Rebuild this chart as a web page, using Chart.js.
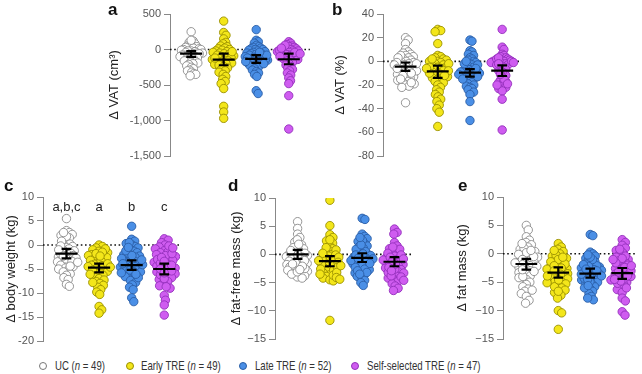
<!DOCTYPE html>
<html>
<head>
<meta charset="utf-8">
<script src="https://cdn.jsdelivr.net/npm/chart.js@4.4.0/dist/chart.umd.min.js"></script>
<style>
  body { margin: 0; background: #fff; width: 642px; height: 374px; position: relative; overflow: hidden;
         font-family: "Liberation Sans", Arial, sans-serif; }
  .panel { position: absolute; }
  .letter { position: absolute; font-weight: bold; font-size: 17px; color: #111; }
  .dot { position: absolute; top: 362px; width: 6px; height: 6px; border-radius: 50%; border: 1px solid #777; }
  .ltxt { position: absolute; top: 358px; font-size: 13px; line-height: 16px; color: #333; white-space: nowrap;
          transform: scaleX(0.74); transform-origin: 0 50%; }
</style>
</head>
<body>
<canvas id="pa" class="panel"></canvas>
<canvas id="pb" class="panel"></canvas>
<canvas id="pc" class="panel"></canvas>
<canvas id="pd" class="panel"></canvas>
<canvas id="pe" class="panel"></canvas>
<div class="letter" style="left:108px;top:0px">a</div>
<div class="letter" style="left:332px;top:0px">b</div>
<div class="letter" style="left:4px;top:176px">c</div>
<div class="letter" style="left:228px;top:176px">d</div>
<div class="letter" style="left:458px;top:176px">e</div>
<div class="dot" style="left:39px;background:#fff;border-color:#777"></div>
<div class="ltxt" style="left:55px">UC (<i>n</i> = 49)</div>
<div class="dot" style="left:126px;background:#f3e61a;border-color:#9a9000"></div>
<div class="ltxt" style="left:141px">Early TRE (<i>n</i> = 49)</div>
<div class="dot" style="left:239px;background:#4a8fe6;border-color:#2a5ea6"></div>
<div class="ltxt" style="left:255px">Late TRE (<i>n</i> = 52)</div>
<div class="dot" style="left:351px;background:#cf5cf0;border-color:#9330bb"></div>
<div class="ltxt" style="left:367px">Self-selected TRE (<i>n</i> = 47)</div>
<script>
// groups
const groups = ['UC', 'Early TRE', 'Late TRE', 'Self-selected TRE'];
const fills = ['#ffffff', '#f3e61a', '#4a8fe6', '#cf5cf0'];
const edges = ['#8a8a8a', '#9a9000', '#2a5ea6', '#9330bb'];

// a: change in VAT (cm3)
const vatUC = [250, 120, 100, 80, 60, 50, 40, 30, 30, 20, 10, 0, 0, -10, -20, -20, -30, -40, -50, -50, -60, -60, -70, -80, -80, -90, -100, -100, -110, -120, -130, -140, -150, -160, -170, -180, -190, -200, -210, -230, -250, -270, -290, -300, -320, -340, -350, -370, 130];
const vatEarly = [400, 240, 200, 150, 100, 80, 50, 40, 20, 10, 0, -10, -20, -30, -40, -50, -60, -70, -80, -90, -100, -110, -120, -130, -140, -150, -160, -170, -180, -190, -200, -210, -220, -240, -260, -280, -300, -320, -350, -380, -420, -450, -480, -550, -800, -880, -970, -30, -120];
const vatLate = [280, 130, 110, 90, 60, 40, 30, 20, 10, 0, 0, -10, -20, -30, -40, -50, -60, -70, -80, -90, -100, -100, -110, -120, -130, -140, -150, -150, -160, -170, -180, -190, -200, -210, -220, -230, -250, -270, -290, -310, -330, -350, -380, -580, -620, -60, -120, -140, -80, -40, -200, -170];
const vatSelf = [110, 90, 70, 50, 40, 30, 20, 10, 0, 0, -10, -20, -20, -30, -40, -50, -60, -70, -80, -90, -100, -110, -120, -130, -140, -150, -160, -180, -200, -220, -240, -260, -280, -300, -330, -360, -400, -440, -480, -650, -1120, 60, -10, -40, 20, -60, -100];
const vatMean = [-57, -142, -132, -137];
const vatLo = [-104, -222, -189, -208];
const vatHi = [-24, -57, -80, -57];

// b: change in VAT (%)
const vatPctUC = [20, 18, 15, 10, 8, 7, 6, 5, 4, 3, 2, 1, 0, 0, -1, -2, -3, -4, -4, -5, -6, -7, -8, -9, -10, -11, -12, -13, -14, -15, -16, -17, -18, -19, -20, -21, -22, -35, 5, 3, -1, -3, -6, -8, -10, -12, -2, -15, -18];
const vatPctEarly = [27, 26, 25, 15, 5, 4, 3, 2, 1, 0, -1, -2, -3, -4, -5, -5, -6, -7, -8, -9, -10, -11, -12, -13, -14, -15, -16, -17, -18, -20, -22, -24, -26, -28, -30, -32, -34, -37, -40, -43, -55, 0, -2, -5, -8, -10, -12, 2, -6];
const vatPctLate = [18, 17, 9, 8, 6, 5, 3, 2, 1, 0, -1, -2, -3, -4, -5, -6, -7, -7, -8, -8, -9, -9, -10, -10, -11, -11, -12, -12, -13, -14, -15, -16, -17, -18, -19, -20, -21, -22, -23, -24, -26, -28, -34, -50, -3, -6, -9, -11, -13, -2, 0, -15];
const vatPctSelf = [27, 12, 10, 6, 5, 4, 3, 2, 1, 1, 0, 0, 0, -1, -1, -2, -3, -4, -5, -6, -7, -8, -10, -12, -14, -16, -17, -18, -19, -20, -21, -22, -23, -25, -32, -58, 2, 0, -1, -3, -15, -19, -20, 3, -2, -9, -11];
const vatPctMean = [-4.5, -8.5, -9.6, -7.9];
const vatPctLo = [-8, -14, -13, -12.4];
const vatPctHi = [-1, -3.7, -6.5, -3.4];

// c: change in body weight (kg)
const bwUC = [5.5, 3, 2.6, 2.2, 2, 1.5, 1, 0.5, 0.2, 0, -0.3, -0.5, -0.8, -1, -1.2, -1.5, -1.7, -2, -2.2, -2.5, -2.7, -3, -3.2, -3.5, -3.8, -4, -4.2, -4.5, -4.8, -5, -5.3, -5.6, -6, -6.3, -6.8, -7.2, -8.2, -8.6, 1.8, 0.8, -0.2, -1.8, -2.9, -3.4, -4.4, 2.6, -1, -2.3, -3.6];
const bwEarly = [0, -0.3, -0.6, -1, -1.3, -1.6, -2, -2.2, -2.5, -2.8, -3, -3.2, -3.5, -3.8, -4, -4.2, -4.5, -4.8, -5, -5.2, -5.5, -5.8, -6, -6.3, -6.6, -7, -7.3, -7.6, -8, -8.4, -8.8, -9.3, -9.8, -10.3, -12.8, -13.5, -14.2, -1.8, -2.6, -3.3, -4.3, -5.3, -6.1, -0.8, -1.5, -3.9, -4.6, -7.8, -2.3];
const bwLate = [3.9, 1.2, 0.8, 0.3, 0, -0.3, -0.6, -1, -1.3, -1.6, -2, -2.3, -2.6, -3, -3.3, -3.6, -4, -4.3, -4.6, -5, -5.3, -5.6, -6, -6.3, -6.6, -7, -7.4, -7.8, -8.3, -8.8, -9.3, -11, -11.8, -2.8, -3.8, -4.8, -5.8, -1.8, -2.5, -3.5, -4.5, -5.5, -6.8, 0.5, -1.2, -2.2, -4.1, -5.2, -3.1, -6.1, -0.5, -3.9];
const bwSelf = [1.3, 1, 0.5, 0, -0.4, -0.8, -1.2, -1.6, -2, -2.4, -2.8, -3.2, -3.6, -4, -4.4, -4.8, -5.2, -5.6, -6, -6.4, -6.8, -7.2, -7.6, -8, -8.5, -9, -10.5, -11.5, -12.5, -14.6, -1.4, -2.2, -3, -3.8, -4.6, -5.4, -6.2, -0.2, -1.8, -2.6, -3.4, -4.2, -5, -7, -8.7, -5.8, -0.6];
const bwMean = [-1.8, -4.7, -4.2, -5.0];
const bwLo = [-2.8, -5.7, -5.2, -6.1];
const bwHi = [-0.8, -3.9, -3.2, -3.9];
const bwLetters = ['a,b,c', 'a', 'b', 'c'];

// d: change in fat-free mass (kg)
const ffmUC = [5.8, 4.6, 3.6, 3, 2.2, 1.7, 1.4, 1, 0.8, 0.5, 0.3, 0, 0, -0.2, -0.4, -0.6, -0.8, -1, -1.2, -1.4, -1.6, -1.8, -2, -2.2, -2.4, -2.6, -2.8, -3, -3.2, -3.4, -3.6, -3.8, -4, -4.2, 1.2, 0.2, -0.5, -1.5, -2.5, -3.5, 2.6, 0.7, -1.1, -2.1, -3.1, -0.1, 1.8, -1.7, -2.7];
const ffmEarly = [9.6, 5.1, 3.5, 3, 2.4, 2, 1.5, 1, 0.6, 0.3, 0, -0.3, -0.6, -0.9, -1.2, -1.5, -1.8, -2.1, -2.4, -2.7, -3, -3.3, -3.6, -3.9, -4.2, -4.5, -4.7, -11.7, 0.8, -0.1, -1, -1.9, -2.8, -3.7, 1.2, -0.5, -1.4, -2.3, -3.2, -4.1, 2.6, -0.8, -1.7, -2.6, -3.5, -4.4, 0.2, -1.1, -2];
const ffmLate = [6.4, 6.2, 3.6, 3.2, 2.8, 2.3, 1.9, 1.5, 1.1, 0.7, 0.3, 0, -0.3, -0.6, -0.9, -1.2, -1.5, -1.8, -2.1, -2.4, -2.7, -3, -3.3, -3.6, -3.9, -4.2, -4.6, -5, -5.5, 1.3, 0.5, -0.2, -0.8, -1.4, -2, -2.6, -3.2, 2.5, 0.9, -0.5, -1, -1.7, -2.3, -0.1, 1.7, -1.1, -2.9, 0.1, -0.7, -1.6, -3.5, 3];
const ffmSelf = [4.5, 3.9, 3.6, 2.1, 1.5, 1, 0.6, 0.3, 0, -0.3, -0.6, -0.9, -1.2, -1.5, -1.8, -2.1, -2.4, -2.7, -3, -3.3, -3.6, -3.9, -4.2, -4.5, -4.8, -5.2, -5.6, -6, -6.4, 0.9, -0.1, -0.8, -1.4, -2, -2.6, -3.2, -3.8, 1.3, 0.2, -1, -1.7, -2.3, -2.9, -4, -4.6, -0.5, -1.1];
const ffmMean = [0, -1.2, -0.6, -1.3];
const ffmLo = [-0.8, -2.1, -1.35, -2.1];
const ffmHi = [0.8, -0.3, 0.2, -0.5];

// e: change in fat mass (kg)
const fmUC = [5, 4.2, 3, 2.4, 2, 1.6, 1.2, 0.8, 0.4, 0, -0.3, -0.6, -0.9, -1.2, -1.5, -1.8, -2.1, -2.4, -2.7, -3, -3.3, -3.6, -3.9, -4.2, -4.5, -5, -5.4, -5.8, -6.2, -6.6, -7, -7.5, -8.2, -8.7, 1, 0.2, -0.5, -1.4, -2.2, -3.1, -4, 1.8, -0.1, -1, -1.9, -2.8, -6.4, 0.6, -1.6];
const fmEarly = [1.8, 1.2, 0.8, 0.4, 0, -0.4, -0.8, -1.2, -1.6, -2, -2.3, -2.6, -2.9, -3.2, -3.5, -3.8, -4.1, -4.4, -4.7, -5, -5.3, -5.6, -6, -6.4, -6.8, -7.3, -7.8, -10, -10.4, -13.3, -0.2, -1, -1.8, -2.5, -3.3, -4, -4.9, -5.8, 0.6, -1.4, -2.7, -3.6, -4.6, -5.1, -0.6, -2.1, -3, -6.6, -3.9];
const fmLate = [3.4, 3.2, 0.3, 0, -0.4, -0.8, -1.2, -1.6, -2, -2.3, -2.6, -2.9, -3.2, -3.5, -3.8, -4.1, -4.4, -4.7, -5, -5.4, -5.8, -6.2, -6.6, -7, -7.5, -8.1, -1.4, -2.1, -2.8, -3.4, -4, -4.6, -5.2, -1, -1.8, -2.5, -3, -3.7, -4.3, -4.9, -6, -0.6, -2.2, -3.3, -3.9, -4.5, -7.8, -0.2, -1.9, -3.6, -5.6, -2.7];
const fmSelf = [2.5, 2, 1.5, 1, 0.6, 0.2, -0.2, -0.6, -1, -1.4, -1.8, -2.2, -2.6, -3, -3.4, -3.8, -4.2, -4.6, -5, -5.4, -5.8, -6.3, -6.8, -7.8, -8.3, -10.2, -10.8, -0.4, -1.2, -2, -2.8, -3.6, -4.4, -5.2, -0.8, -1.6, -2.4, -3.2, -4, -4.8, -6, -3, -2.1, -3.9, -1, -4.5, 0.8];
const fmMean = [-1.8, -3.3, -3.5, -3.4];
const fmLo = [-2.8, -4.2, -4.2, -4.4];
const fmHi = [-0.9, -2.4, -2.6, -2.5];

// beeswarm: x offsets in px, squeezed so the swarm never gets wider than maxHalf
function swarm(vals, ky, minDist, maxHalf) {
    const placed = [];
    const out = new Array(vals.length);
    const order = vals.map((v, i) => i).sort((a, b) => vals[b] - vals[a]);
    for (const i of order) {
        const y = vals[i] * ky;
        let dx = 0;
        for (let s = 0; s < 400; s++) {
            const cand = s === 0 ? 0 : (s % 2 ? 1 : -1) * Math.ceil(s / 2) * 0.5;
            if (placed.every(p => Math.hypot(p.x - cand, p.y - y) >= minDist)) { dx = cand; break; }
        }
        placed.push({x: dx, y: y});
        out[i] = dx;
    }
    const widest = Math.max(...out.map(Math.abs));
    const f = widest > maxHalf ? maxHalf / widest : 1;
    return out.map(d => d * f);
}

const tickFont = {family: "'Liberation Sans', Arial, sans-serif", size: 11};
const titleFont = {family: "'Liberation Sans', Arial, sans-serif", size: 13};

const letterPlugin = {
    id: 'groupLetters',
    afterDatasetsDraw(chart, args, opts) {
        if (!opts.letters) return;
        const ctx = chart.ctx;
        const xs = chart.scales.x, ys = chart.scales.y;
        ctx.save();
        ctx.font = "13px 'Liberation Sans', Arial, sans-serif";
        ctx.fillStyle = '#222';
        ctx.textAlign = 'center';
        ctx.textBaseline = 'middle';
        opts.letters.forEach((t, i) => ctx.fillText(t, xs.getPixelForValue(i + 1), ys.getPixelForValue(opts.y)));
        ctx.restore();
    }
};

function fmtTick(v, minus) {
    const s = v.toLocaleString('en-US');
    return minus ? s.replace('-', '\u2212') : s;
}

function makePanel(p) {
    const cv = document.getElementById(p.id);
    cv.width = p.w; cv.height = p.h;
    cv.style.left = p.left + 'px'; cv.style.top = p.top + 'px';
    const plotW = p.w - p.yW - p.padR;
    const plotH = p.h - p.padT - p.padB;
    const kx = plotW / (p.xmax - p.xmin);
    const ky = plotH / (p.ymax - p.ymin);

    const datasets = [];
    // mean and 95% CI bars on top
    const bars = [];
    p.mean.forEach((m, i) => {
        const c = i + 1;
        bars.push({x: c - 0.34, y: m}, {x: c + 0.34, y: m}, {x: c, y: null});
        bars.push({x: c, y: p.lo[i]}, {x: c, y: p.hi[i]}, {x: c, y: null});
        bars.push({x: c - 0.15, y: p.lo[i]}, {x: c + 0.15, y: p.lo[i]}, {x: c, y: null});
        bars.push({x: c - 0.15, y: p.hi[i]}, {x: c + 0.15, y: p.hi[i]}, {x: c, y: null});
    });
    datasets.push({type: 'line', data: bars, borderColor: '#000', borderWidth: 2.2, pointRadius: 0, spanGaps: false, tension: 0});

    p.series.forEach((vals, g) => {
        const off = swarm(vals, ky, 5, 11.5);
        datasets.push({
            type: 'scatter',
            label: groups[g],
            data: vals.map((v, i) => ({x: g + 1 + off[i] / kx, y: v})),
            backgroundColor: fills[g],
            borderColor: edges[g],
            borderWidth: 0.9,
            pointRadius: 4.2
        });
    });

    datasets.push({type: 'line', data: [{x: p.xmin, y: 0}, {x: p.xmax, y: 0}], borderColor: '#111',
        borderWidth: 1.6, borderDash: [1.6, 2.6], pointRadius: 0});

    new Chart(cv, {
        type: 'scatter',
        data: {datasets: datasets},
        options: {
            responsive: false,
            animation: false,
            devicePixelRatio: 1,
            layout: {padding: {top: p.padT, bottom: p.padB, right: p.padR, left: 0}},
            plugins: {legend: {display: false}, tooltip: {enabled: false},
                      groupLetters: {letters: p.letters || null, y: p.letterY}},
            scales: {
                x: {type: 'linear', display: false, min: p.xmin, max: p.xmax},
                y: {
                    min: p.ymin, max: p.ymax,
                    afterFit: s => { s.width = p.yW; },
                    ticks: {stepSize: p.step, font: tickFont, color: '#555', padding: 3,
                            callback: v => fmtTick(v, p.minus)},
                    grid: {display: true, drawOnChartArea: false, drawTicks: true, tickLength: 6, color: '#888', lineWidth: 1},
                    border: {display: true, color: '#888', width: 1},
                    title: {display: true, text: p.title, font: titleFont, color: '#222', padding: {top: p.titlePad, bottom: 0}}
                }
            }
        },
        plugins: [letterPlugin]
    });
}

makePanel({id: 'pa', left: 100, top: 0, w: 215, h: 170, yW: 70, padT: 14, padB: 14, padR: 3,
    xmin: 0.35, xmax: 4.65, ymin: -1500, ymax: 500, step: 500, title: 'Δ VAT (cm³)', titlePad: 7,
    series: [vatUC, vatEarly, vatLate, vatSelf], mean: vatMean, lo: vatLo, hi: vatHi});
makePanel({id: 'pb', left: 320, top: 0, w: 205, h: 170, yW: 63, padT: 14, padB: 14, padR: 2,
    xmin: 0.3, xmax: 4.55, ymin: -80, ymax: 40, step: 20, title: 'Δ VAT (%)', titlePad: 13,
    series: [vatPctUC, vatPctEarly, vatPctLate, vatPctSelf], mean: vatPctMean, lo: vatPctLo, hi: vatPctHi});
makePanel({id: 'pc', left: 0, top: 175, w: 185, h: 180, yW: 43, padT: 22, padB: 14, padR: 2,
    xmin: 0.28, xmax: 4.48, ymin: -20, ymax: 10, step: 5, title: 'Δ body weight (kg)', titlePad: 4,
    series: [bwUC, bwEarly, bwLate, bwSelf], mean: bwMean, lo: bwLo, hi: bwHi, letters: bwLetters, letterY: 7.8});
makePanel({id: 'pd', left: 215, top: 175, w: 202, h: 180, yW: 60, padT: 23, padB: 16, padR: 2,
    xmin: 0.3, xmax: 4.54, ymin: -15, ymax: 10, step: 5, title: 'Δ fat-free mass (kg)', titlePad: 14, minus: true,
    series: [ffmUC, ffmEarly, ffmLate, ffmSelf], mean: ffmMean, lo: ffmLo, hi: ffmHi});
makePanel({id: 'pe', left: 430, top: 175, w: 212, h: 180, yW: 73, padT: 22, padB: 16, padR: 2,
    xmin: 0.27, xmax: 4.46, ymin: -15, ymax: 10, step: 5, title: 'Δ fat mass (kg)', titlePad: 25, minus: true,
    series: [fmUC, fmEarly, fmLate, fmSelf], mean: fmMean, lo: fmLo, hi: fmHi});
</script>
</body>
</html>
